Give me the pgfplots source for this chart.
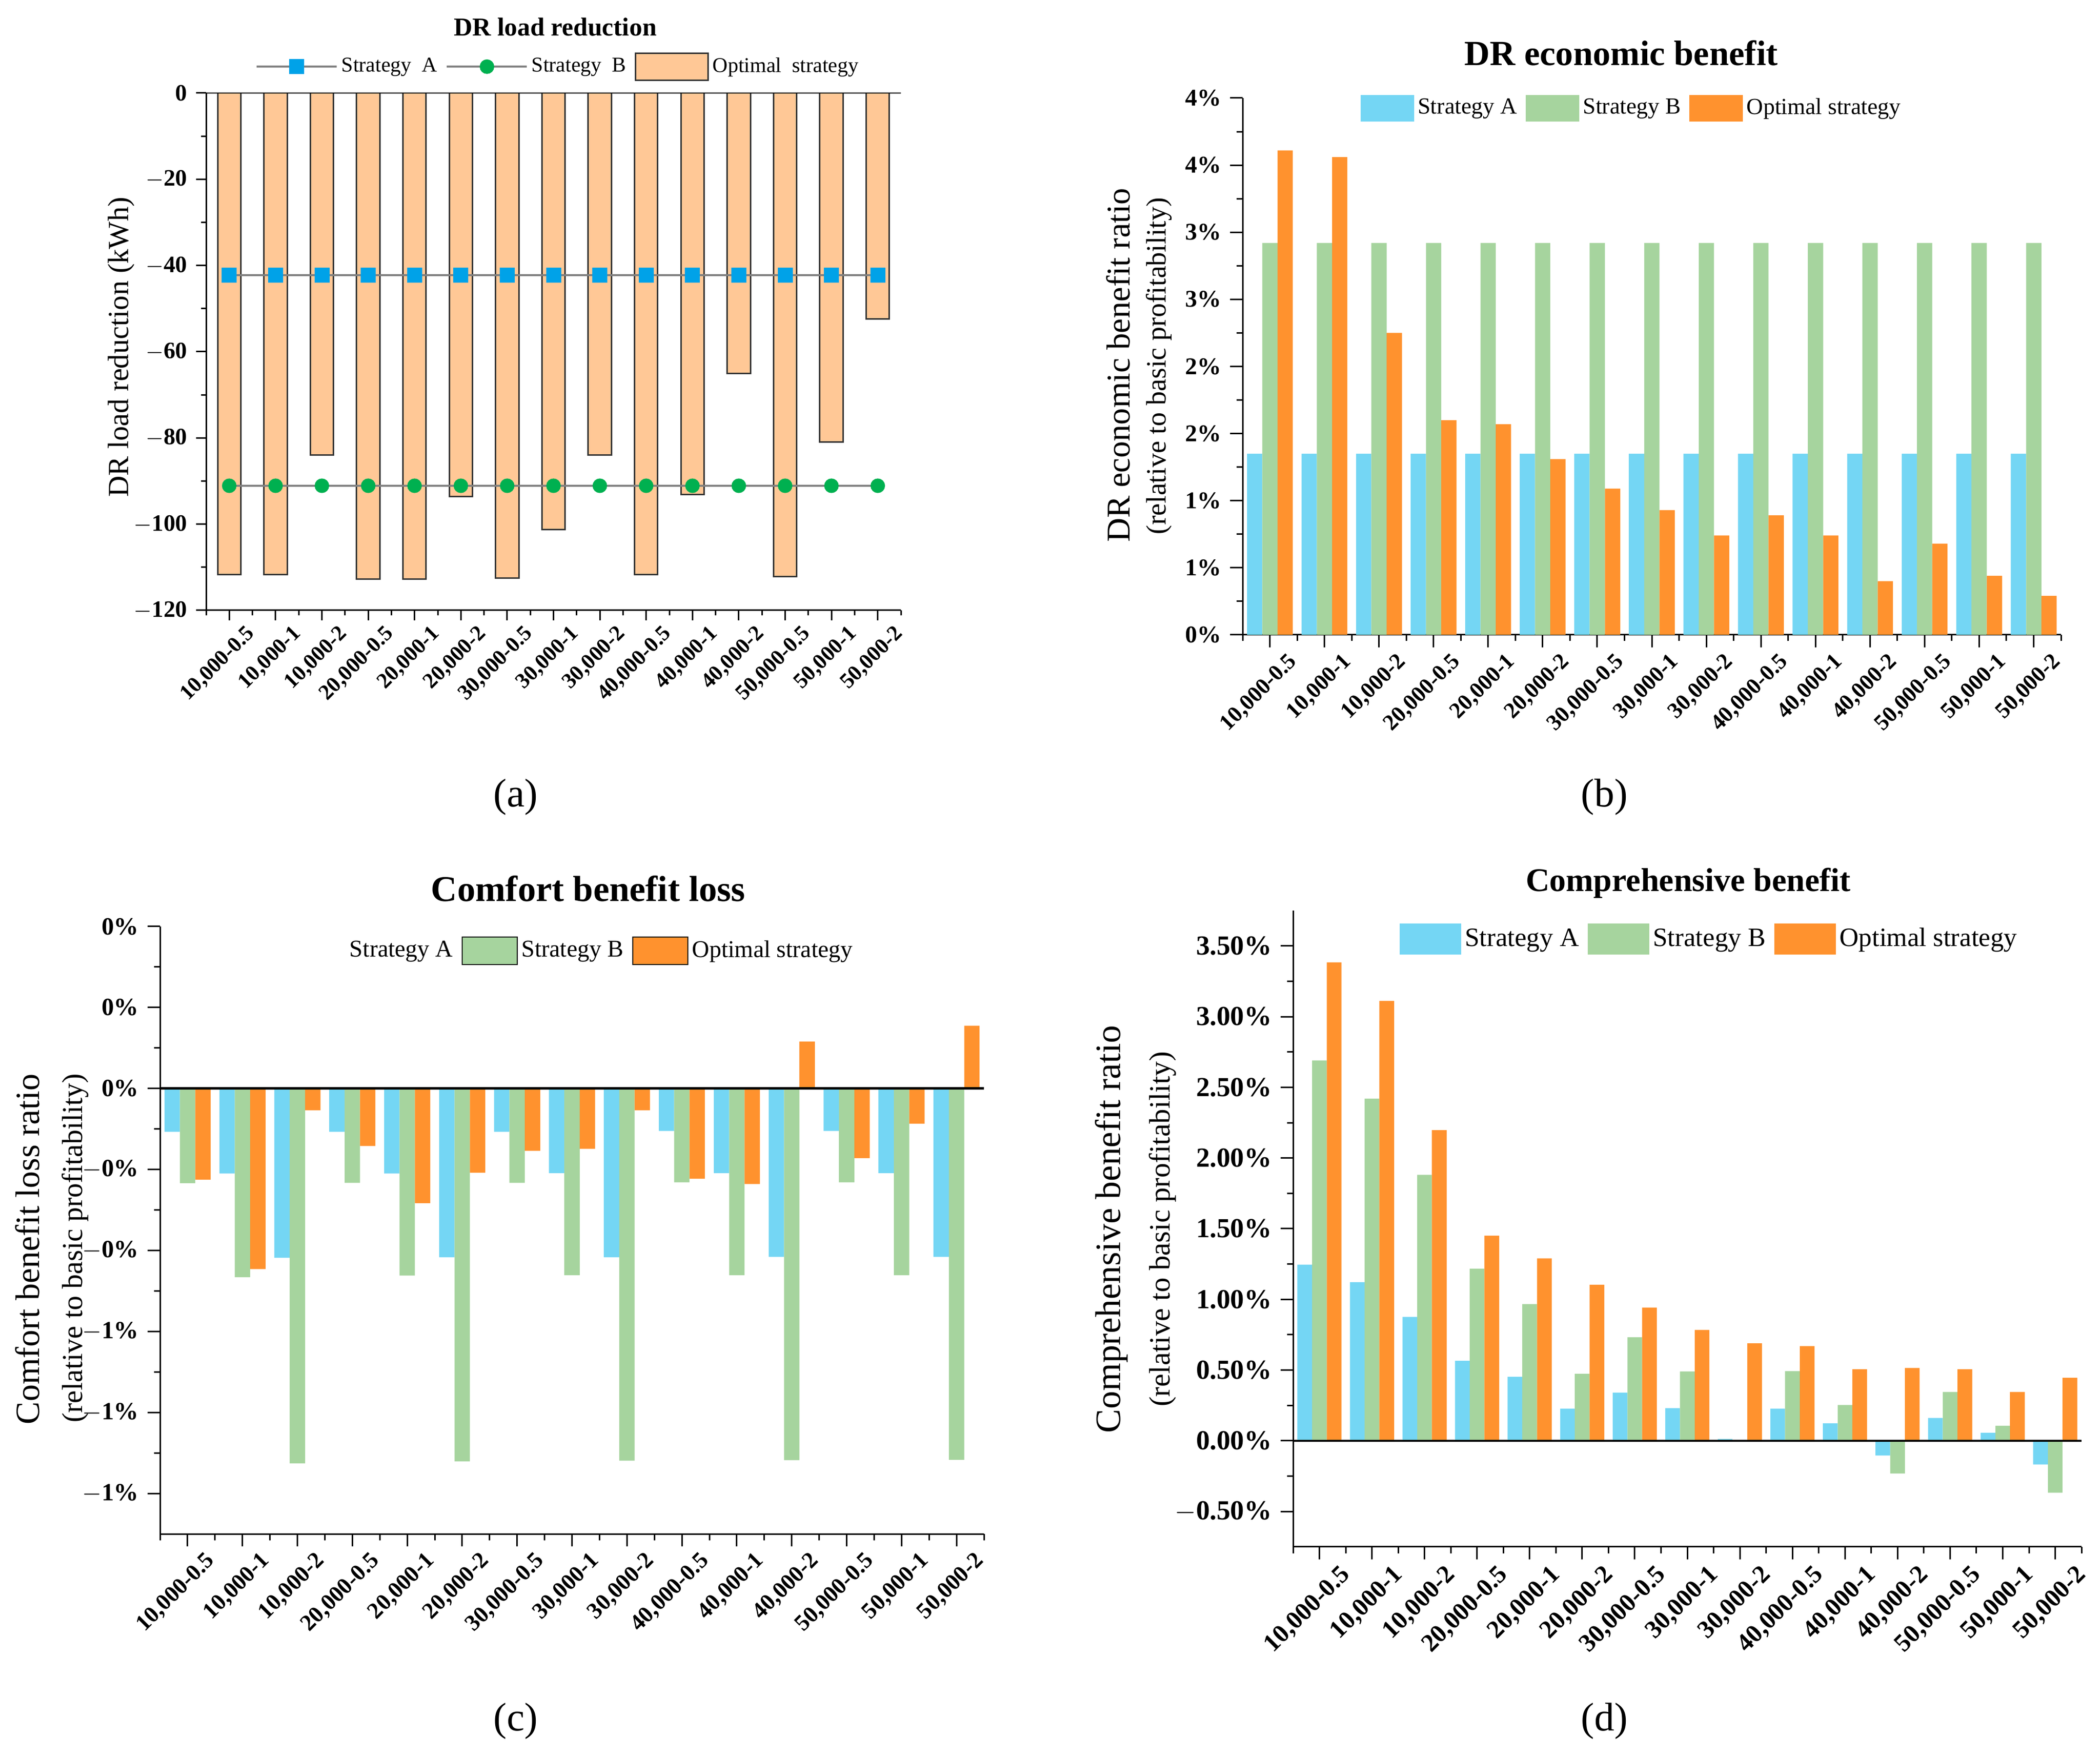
\documentclass[border=0pt]{standalone}
\usepackage{fontspec}
\setmainfont{Liberation Serif}
\usepackage{pgfplots}
\pgfplotsset{compat=1.18}

\definecolor{cA}{HTML}{74D6F4}
\definecolor{cB}{HTML}{A6D49E}
\definecolor{cO}{HTML}{FF922E}
\definecolor{peach}{HTML}{FFC896}
\definecolor{mA}{HTML}{00A2E8}
\definecolor{mB}{HTML}{00B050}
\definecolor{lg}{HTML}{808080}

\newcommand{\fs}[1]{\fontsize{#1}{#1}\selectfont}

\pgfplotsset{
  common/.style={
    scale only axis,
    anchor=north west,
    axis x line*=bottom,
    axis y line*=left,
    axis line style={-, line width=0.6pt},
    tick align=outside,
    xmin=-0.5, xmax=14.5,
    xtick={0,...,14},
    minor xtick={-0.5,0.5,1.5,2.5,3.5,4.5,5.5,6.5,7.5,8.5,9.5,10.5,11.5,12.5,13.5,14.5},
    xticklabels={{10,000-0.5},{10,000-1},{10,000-2},{20,000-0.5},{20,000-1},{20,000-2},{30,000-0.5},{30,000-1},{30,000-2},{40,000-0.5},{40,000-1},{40,000-2},{50,000-0.5},{50,000-1},{50,000-2}},
    minor y tick num=1,
    major tick length=4pt, minor tick length=2pt,
    every tick/.style={line width=0.6pt, black},
    legend columns=3,
    legend cell align=left,
    legend style={draw=none, fill=none, inner sep=0pt,
      /tikz/every even column/.append style={column sep=2pt},
      nodes={inner sep=1.5pt}},
  },
  bars/.style={ybar, bar width=0.28, draw=none},
  lineleg/.style={legend image code/.code={\draw[mark repeat=2,mark phase=2,##1] plot coordinates {(0pt,0pt) (16pt,0pt) (32pt,0pt)};}},
  rectlegB/.style={legend image code/.code={\fill[##1] (0pt,-5.3pt) rectangle (21.4pt,5.3pt);}},
  rectlegC/.style={legend image code/.code={\fill[##1] (0pt,-5.5pt) rectangle (22pt,5.5pt);}},
  rectlegD/.style={legend image code/.code={\fill[##1] (0pt,-6.2pt) rectangle (24.6pt,6.2pt);}},
  peachleg/.style={legend image code/.code={\draw[fill=peach, draw=black!80, line width=0.6pt] (0pt,-5.4pt) rectangle (29pt,5.4pt);}},
  emptyleg/.style={legend image code/.code={}},
}

\begin{document}
\begin{tikzpicture}
\useasboundingbox (0,0) rectangle (839.6pt,701.8pt);

% ---------------- (a) ----------------
\begin{axis}[common,
  at={(82.4pt,664.6pt)}, width=277.8pt, height=206.8pt,
  ymin=-120, ymax=0,
  ytick={-120,-100,-80,-60,-40,-20,0},
  yticklabels={$-$120,$-$100,$-$80,$-$60,$-$40,$-$20,0},
  yticklabel style={font=\bfseries\fs{9.4}},
  xticklabel style={rotate=45, anchor=north east, font=\bfseries\fs{8.7}, xshift=6.8pt, yshift=-2pt},
  legend style={at={(axis description cs:0.508,1.051)}, anchor=center, font=\fs{8.4}},
]
\addplot[ybar, bar width=0.5, fill=peach, draw=black!80, line width=0.6pt, forget plot]
  coordinates {(0,-111.7) (1,-111.7) (2,-84.0) (3,-112.8) (4,-112.8) (5,-93.6) (6,-112.5) (7,-101.3) (8,-84.0) (9,-111.7) (10,-93.1) (11,-65.1) (12,-112.2) (13,-81.0) (14,-52.4)};
\addplot[lg, line width=0.8pt, mark=square*, mark size=2.6pt, mark options={fill=mA, draw=mA}, forget plot]
  coordinates {(0,-42.3) (1,-42.3) (2,-42.3) (3,-42.3) (4,-42.3) (5,-42.3) (6,-42.3) (7,-42.3) (8,-42.3) (9,-42.3) (10,-42.3) (11,-42.3) (12,-42.3) (13,-42.3) (14,-42.3)};
\addplot[lg, line width=0.8pt, mark=*, mark size=2.5pt, mark options={fill=mB, draw=mB}, forget plot]
  coordinates {(0,-91.1) (1,-91.1) (2,-91.1) (3,-91.1) (4,-91.1) (5,-91.1) (6,-91.1) (7,-91.1) (8,-91.1) (9,-91.1) (10,-91.1) (11,-91.1) (12,-91.1) (13,-91.1) (14,-91.1)};
\addlegendimage{lineleg, lg, line width=0.8pt, mark=square*, mark size=2.6pt, mark options={fill=mA, draw=mA}}
\addlegendentry{Strategy\ \ A}
\addlegendimage{lineleg, lg, line width=0.8pt, mark=*, mark size=2.5pt, mark options={fill=mB, draw=mB}}
\addlegendentry{Strategy\ \ B}
\addlegendimage{peachleg}
\addlegendentry{Optimal\ \ strategy}
\draw[line width=0.6pt] (rel axis cs:0,1) -- (rel axis cs:1,1);
\end{axis}

% ---------------- (b) ----------------
\begin{axis}[common,
  at={(496.8pt,662.6pt)}, width=327.2pt, height=214.6pt,
  ymin=0, ymax=4,
  ytick={0,0.5,1,1.5,2,2.5,3,3.5,4},
  yticklabels={0\%,1\%,1\%,2\%,2\%,3\%,3\%,4\%,4\%},
  yticklabel style={font=\bfseries\fs{9.6}},
  xticklabel style={rotate=45, anchor=north east, font=\bfseries\fs{9}, xshift=7pt, yshift=-2.5pt},
  major tick length=5pt, minor tick length=2.5pt,
  legend style={at={(axis description cs:0.4765,0.981)}, anchor=center, font=\fs{9.2}},
  rectlegB,
]
\addplot[bars, fill=cA, bar shift=-0.28]
  coordinates {(0,1.35) (1,1.35) (2,1.35) (3,1.35) (4,1.35) (5,1.35) (6,1.35) (7,1.35) (8,1.35) (9,1.35) (10,1.35) (11,1.35) (12,1.35) (13,1.35) (14,1.35)};
\addplot[bars, fill=cB, bar shift=0]
  coordinates {(0,2.92) (1,2.92) (2,2.92) (3,2.92) (4,2.92) (5,2.92) (6,2.92) (7,2.92) (8,2.92) (9,2.92) (10,2.92) (11,2.92) (12,2.92) (13,2.92) (14,2.92)};
\addplot[bars, fill=cO, bar shift=0.28]
  coordinates {(0,3.61) (1,3.56) (2,2.25) (3,1.60) (4,1.57) (5,1.31) (6,1.09) (7,0.93) (8,0.74) (9,0.89) (10,0.74) (11,0.40) (12,0.68) (13,0.44) (14,0.29)};
\legend{Strategy A,Strategy B,Optimal strategy}
\end{axis}

% ---------------- (c) ----------------
\begin{axis}[common,
  at={(64pt,331.4pt)}, width=329.4pt, height=242.8pt,
  ymin=-1.1, ymax=0.4,
  ytick={-1,-0.8,-0.6,-0.4,-0.2,0,0.2,0.4},
  yticklabels={$-$1\%,$-$1\%,$-$1\%,$-$0\%,$-$0\%,0\%,0\%,0\%},
  yticklabel style={font=\bfseries\fs{9.9}},
  xticklabel style={rotate=45, anchor=north east, font=\bfseries\fs{9.2}, xshift=7pt, yshift=-2.5pt},
  major tick length=5pt, minor tick length=2.5pt,
  legend style={at={(axis description cs:0.846,0.96)}, anchor=east, font=\fs{9.6}},
  rectlegC,
]
\addplot[bars, fill=cA, bar shift=-0.28, forget plot]
  coordinates {(0,-0.107) (1,-0.210) (2,-0.418) (3,-0.107) (4,-0.210) (5,-0.417) (6,-0.107) (7,-0.209) (8,-0.417) (9,-0.105) (10,-0.209) (11,-0.416) (12,-0.105) (13,-0.209) (14,-0.416)};
\addplot[bars, fill=cB, bar shift=0, forget plot]
  coordinates {(0,-0.234) (1,-0.466) (2,-0.926) (3,-0.233) (4,-0.462) (5,-0.921) (6,-0.233) (7,-0.461) (8,-0.919) (9,-0.232) (10,-0.461) (11,-0.918) (12,-0.232) (13,-0.461) (14,-0.917)};
\addplot[bars, fill=cO, bar shift=0.28, forget plot]
  coordinates {(0,-0.225) (1,-0.446) (2,-0.054) (3,-0.142) (4,-0.283) (5,-0.208) (6,-0.154) (7,-0.149) (8,-0.054) (9,-0.223) (10,-0.236) (11,0.116) (12,-0.172) (13,-0.087) (14,0.155)};
\addlegendimage{emptyleg}
\addlegendentry{Strategy A}
\addlegendimage{rectlegC, fill=cB}
\addlegendentry{Strategy B}
\addlegendimage{rectlegC, fill=cO}
\addlegendentry{Optimal strategy}
\draw[line width=0.9pt] ({rel axis cs:0,0}|-{axis cs:0,0}) -- ({rel axis cs:1,0}|-{axis cs:0,0});
\end{axis}

% ---------------- (d) ----------------
\begin{axis}[common,
  at={(517pt,337.8pt)}, width=315.2pt, height=254.4pt,
  ymin=-0.75, ymax=3.75,
  ytick={-0.5,0,0.5,1,1.5,2,2.5,3,3.5},
  yticklabels={$-$0.50\%,0.00\%,0.50\%,1.00\%,1.50\%,2.00\%,2.50\%,3.00\%,3.50\%},
  yticklabel style={font=\bfseries\fs{11}},
  xticklabel style={rotate=45, anchor=north east, font=\bfseries\fs{10.1}, xshift=7.8pt, yshift=-3.3pt},
  major tick length=5pt, minor tick length=2.5pt,
  legend style={at={(axis description cs:0.529,0.955)}, anchor=center, font=\fs{10.6}},
  rectlegD,
]
\addplot[bars, fill=cA, bar shift=-0.28]
  coordinates {(0,1.246) (1,1.122) (2,0.876) (3,0.566) (4,0.452) (5,0.228) (6,0.341) (7,0.231) (8,0.013) (9,0.228) (10,0.123) (11,-0.104) (12,0.161) (13,0.057) (14,-0.168)};
\addplot[bars, fill=cB, bar shift=0]
  coordinates {(0,2.690) (1,2.419) (2,1.881) (3,1.217) (4,0.967) (5,0.474) (6,0.733) (7,0.490) (8,0.0) (9,0.493) (10,0.253) (11,-0.231) (12,0.345) (13,0.107) (14,-0.367)};
\addplot[bars, fill=cO, bar shift=0.28]
  coordinates {(0,3.383) (1,3.111) (2,2.197) (3,1.451) (4,1.290) (5,1.103) (6,0.942) (7,0.784) (8,0.689) (9,0.670) (10,0.506) (11,0.515) (12,0.506) (13,0.345) (14,0.446)};
\legend{Strategy A,Strategy B,Optimal strategy}
\draw[line width=0.9pt] ({rel axis cs:0,0}|-{axis cs:0,0}) -- ({rel axis cs:1,0}|-{axis cs:0,0});
\end{axis}

% ---------------- titles ----------------
\node[font=\bfseries\fs{10.3}] at (222pt,691pt) {DR load reduction};
\node[font=\bfseries\fs{14.1}] at (648.2pt,680.6pt) {DR economic benefit};
\node[font=\bfseries\fs{14.5}] at (235.2pt,346.6pt) {Comfort benefit loss};
\node[font=\bfseries\fs{13.2}] at (675pt,348.8pt) {Comprehensive benefit};

% ---------------- y labels ----------------
\node[rotate=90, font=\fs{11.7}] at (48.4pt,563pt) {DR load reduction (kWh)};
\node[rotate=90, font=\fs{13.3}] at (447pt,555.8pt) {DR economic benefit ratio};
\node[rotate=90, font=\fs{11.2}] at (463.4pt,555.4pt) {(relative to basic profitability)};
\node[rotate=90, font=\fs{13.6}] at (11pt,202.4pt) {Comfort benefit loss ratio};
\node[rotate=90, font=\fs{11.6}] at (30pt,202.8pt) {(relative to basic profitability)};
\node[rotate=90, font=\fs{14.3}] at (444.4pt,210.4pt) {Comprehensive benefit ratio};
\node[rotate=90, font=\fs{11.8}] at (464.8pt,210.4pt) {(relative to basic profitability)};

% ---------------- captions ----------------
\node[font=\fs{16}] at (206.2pt,383.2pt) {(a)};
\node[font=\fs{16}] at (641.4pt,383.2pt) {(b)};
\node[font=\fs{16}] at (206.2pt,13.8pt) {(c)};
\node[font=\fs{16}] at (641.4pt,13.8pt) {(d)};
\end{tikzpicture}
\end{document}
